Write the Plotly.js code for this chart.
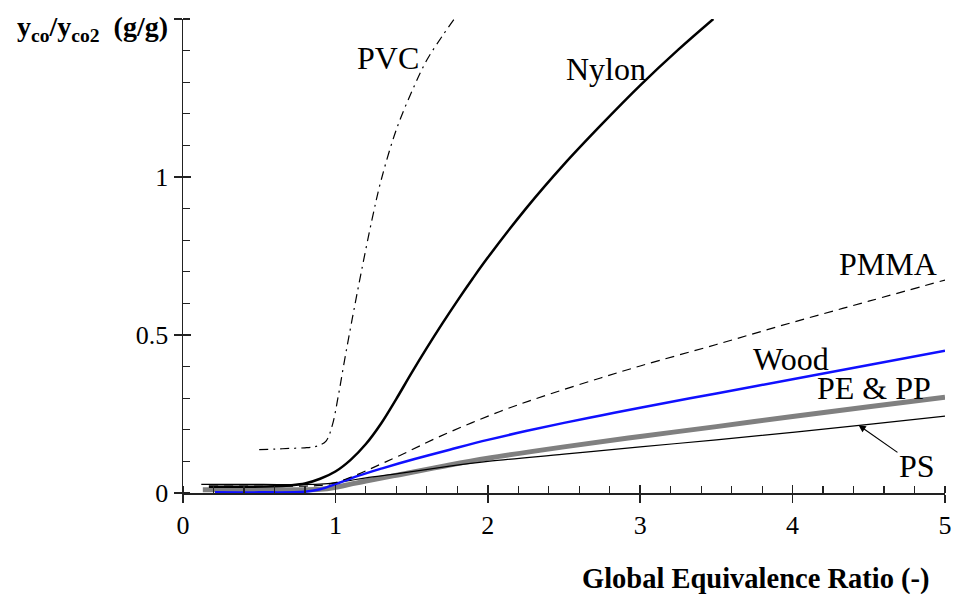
<!DOCTYPE html>
<html>
<head>
<meta charset="utf-8">
<script src="https://cdn.plot.ly/plotly-3.0.1.min.js"></script>
<style>html,body{margin:0;padding:0;background:#fff;}#chart{width:953px;height:594px;}</style>
</head>
<body>
<div id="chart"></div>
<script>
// ---- data ----
const pvcX = [0.5,0.6,0.7,0.8,0.86,0.9,0.94,0.98,1.02,1.06,1.11,1.17,1.24,1.30,1.40,1.51,1.60,1.70,1.78];
const pvcY = [0.137,0.139,0.141,0.143,0.146,0.152,0.165,0.215,0.31,0.42,0.55,0.70,0.865,0.99,1.15,1.28,1.37,1.445,1.5];

const nylonX = [0.17,0.4,0.6,0.7,0.8,0.9,1.0,1.1,1.2,1.3,1.4,1.5,1.6,1.7,1.8,1.9,2.0,2.25,2.5,2.75,3.0,3.25,3.48];
const nylonY = [0.02,0.02,0.021,0.024,0.03,0.045,0.068,0.105,0.155,0.22,0.298,0.38,0.459,0.535,0.608,0.678,0.745,0.9,1.04,1.168,1.29,1.403,1.5];

const pmmaX = [0.17,0.8,0.9,1.0,1.1,1.2,1.3,1.42,1.69,2.08,2.4,2.74,3.0,3.5,4.0,4.5,5.0];
const pmmaY = [0.022,0.022,0.024,0.033,0.05,0.07,0.092,0.118,0.18,0.258,0.312,0.364,0.402,0.47,0.54,0.607,0.674];

const woodX = [0.21,0.5,0.8,0.9,1.0,1.1,1.2,1.3,1.42,1.6,1.75,2.0,2.25,2.5,2.75,3.0,3.5,4.0,4.5,5.0];
const woodY = [0.002,0.002,0.004,0.012,0.028,0.046,0.062,0.077,0.094,0.118,0.137,0.168,0.196,0.222,0.246,0.27,0.315,0.36,0.405,0.45];

const pepX = [0.13,0.5,0.9,1.0,1.1,1.2,1.42,1.7,2.0,2.5,3.0,3.5,4.0,4.5,5.0];
const pepY = [0.01,0.01,0.012,0.018,0.028,0.038,0.058,0.084,0.11,0.146,0.179,0.21,0.242,0.273,0.303];

const psX = [0.12,0.5,0.9,1.0,1.1,1.2,1.42,1.75,2.0,2.5,3.0,3.5,4.0,4.5,5.0];
const psY = [0.027,0.027,0.028,0.032,0.04,0.048,0.062,0.085,0.1,0.123,0.146,0.168,0.192,0.217,0.243];

const xTickVals = [0,1,2,3,4,5];
const xTickText = ['0','1','2','3','4','5'];
const yLabelVals = [0,0.5,1];
const yLabelText = ['0','0.5','1'];
const yAllTicks = [0,0.5,1,1.5];
const yTopTick = [1.5];

// ---- styles ----
const FONT = 'Liberation Serif, Times New Roman, serif';
const AX = '#222';

const traces = [
  {x: pepX, y: pepY, mode:'lines', line:{color:'#808080', width:5, shape:'spline'}, name:'PE & PP'},
  {x: psX, y: psY, mode:'lines', line:{color:'#000', width:1.2, shape:'spline'}, name:'PS'},
  {x: woodX, y: woodY, mode:'lines', line:{color:'#1010ff', width:2.5, shape:'spline'}, name:'Wood'},
  {x: pmmaX, y: pmmaY, mode:'lines', line:{color:'#000', width:1.2, dash:'9px,6px', shape:'spline'}, name:'PMMA'},
  {x: nylonX, y: nylonY, mode:'lines', line:{color:'#000', width:2.5, shape:'spline'}, name:'Nylon'},
  {x: pvcX, y: pvcY, mode:'lines', line:{color:'#000', width:1.2, dash:'9px,5px,2px,5px', shape:'spline'}, name:'PVC'},
  {x: [], y: [], xaxis:'x2', yaxis:'y2', mode:'lines', showlegend:false, hoverinfo:'skip'},
  {x: [], y: [], xaxis:'x', yaxis:'y3', mode:'lines', showlegend:false, hoverinfo:'skip'}
];

const lbl = (text, x, y) => ({text, x, y, xref:'x', yref:'y', showarrow:false,
  xanchor:'center', yanchor:'middle', font:{family:FONT, size:32, color:'#000'}});

const layout = {
  width: 953, height: 594,
  margin: {l:183, r:8, t:19, b:101, pad:0},
  paper_bgcolor:'#fff', plot_bgcolor:'#fff',
  showlegend: false,
  font: {family: FONT, color:'#000'},
  xaxis: {
    range:[0,5], showgrid:false, zeroline:false, showline:true, linecolor:AX, linewidth:1.5,
    tickmode:'array', tickvals:xTickVals, ticktext:xTickText,
    ticks:'outside', ticklen:8, tickwidth:1.5, tickcolor:AX,
    tickfont:{family:FONT, size:26, color:'#000'},
    minor:{dtick:0.2, ticks:'inside', ticklen:7, tickwidth:1.2, tickcolor:AX}
  },
  yaxis: {
    range:[0,1.5], showgrid:false, zeroline:false, showline:true, linecolor:AX, linewidth:1.5,
    tickmode:'array', tickvals:yLabelVals, ticktext:yLabelText,
    ticks:'outside', ticklen:8, tickwidth:1.5, tickcolor:AX,
    tickfont:{family:FONT, size:26, color:'#000'},
    minor:{dtick:0.1, ticks:'inside', ticklen:7, tickwidth:1.2, tickcolor:AX}
  },
  xaxis2: {overlaying:'x', matches:'x', anchor:'y', side:'bottom', range:[0,5],
    showgrid:false, zeroline:false, showline:false, showticklabels:false,
    tickmode:'array', tickvals:xTickVals, ticks:'inside', ticklen:8, tickwidth:1.5, tickcolor:AX},
  yaxis2: {overlaying:'y', matches:'y', anchor:'x', side:'left', range:[0,1.5],
    showgrid:false, zeroline:false, showline:false, showticklabels:false,
    tickmode:'array', tickvals:yAllTicks, ticks:'inside', ticklen:8, tickwidth:1.5, tickcolor:AX},
  yaxis3: {overlaying:'y', matches:'y', anchor:'x', side:'left', range:[0,1.5],
    showgrid:false, zeroline:false, showline:false, showticklabels:false,
    tickmode:'array', tickvals:yTopTick, ticks:'outside', ticklen:8, tickwidth:1.5, tickcolor:AX},
  annotations: [
    lbl('PVC', 1.348, 1.378),
    lbl('Nylon', 2.776, 1.342),
    lbl('PMMA', 4.623, 0.725),
    lbl('Wood', 3.99, 0.4256),
    lbl('PE &amp; PP', 4.531, 0.332),
    {text:'PS', x:4.433, y:0.2146, xref:'x', yref:'y', ax:4.816, ay:0.0854, axref:'x', ayref:'y',
     showarrow:true, arrowhead:2, arrowsize:1.2, arrowwidth:1.2, arrowcolor:'#000',
     font:{family:FONT, size:32, color:'#000'}},
    {text:'<b>Global Equivalence Ratio (-)</b>', xref:'paper', yref:'paper', x:0.983, y:-0.181,
     xanchor:'right', yanchor:'middle', showarrow:false, font:{family:FONT, size:28.5, color:'#000'}},
    {text:'<b>y<sub>co</sub>/y<sub>co2</sub>  (g/g)</b>', xref:'paper', yref:'paper', x:-0.2205, y:0.981,
     xanchor:'left', yanchor:'middle', showarrow:false, font:{family:FONT, size:28, color:'#000'}}
  ]
};

Plotly.newPlot('chart', traces, layout, {staticPlot:true, displayModeBar:false});
</script>
</body>
</html>
